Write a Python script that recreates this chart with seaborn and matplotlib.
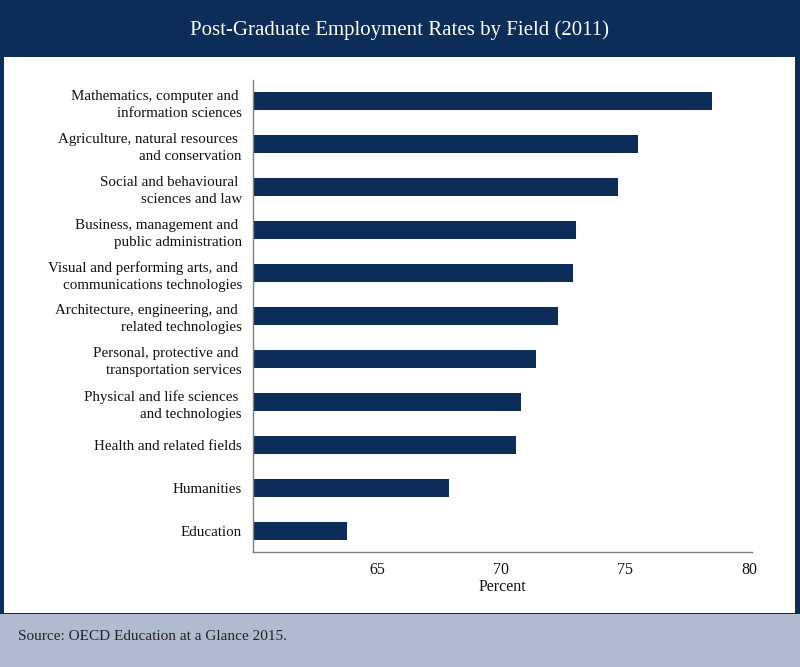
import numpy as np
import seaborn as sns
import pandas as pd
from matplotlib import pyplot as plt
from matplotlib.patches import Rectangle

# данные
fields = ['Mathematics, computer and \ninformation sciences',
          'Agriculture, natural resources \nand conservation',
          'Social and behavioural \nsciences and law',
          'Business, management and \npublic administration',
          'Visual and performing arts, and \ncommunications technologies',
          'Architecture, engineering, and \nrelated technologies',
          'Personal, protective and \ntransportation services',
          'Physical and life sciences \nand technologies',
          'Health and related fields',
          'Humanities',
          'Education']
rates = [78.5, 75.5, 74.7, 73.0, 72.9, 72.3, 71.4, 70.8, 70.6, 67.9, 63.8]
x_ticks = [65, 70, 75, 80]

navy = '#0b2d57'
footer_col = '#b0bbd0'
text_col = '#111111'

data = pd.DataFrame({'field': fields, 'rate': rates})

sns.set_style('white')
plt.rcParams['font.family'] = ['Liberation Serif', 'DejaVu Serif']

fig = plt.figure(figsize=(8, 6.67), dpi=100, facecolor=navy)

# белая панель и подвал
fig.patches.append(Rectangle((4 / 800, 54 / 667), 791 / 800, 556 / 667,
                             transform=fig.transFigure, facecolor='white',
                             edgecolor='none', zorder=-2))
fig.patches.append(Rectangle((0, 0), 1, 53 / 667, transform=fig.transFigure,
                             facecolor=footer_col, edgecolor='none', zorder=-2))

ax = fig.add_axes([253 / 800, 115 / 667, 499 / 800, 472 / 667])
ax.set_zorder(2)
ax.set_facecolor('none')
sns.barplot(data=data, x='rate', y='field', orient='h', color=navy,
            width=0.42, saturation=1, linewidth=0, ax=ax)

ax.set_xlim(60, 80.1)
ax.set_xticks(x_ticks)
ax.set_xticklabels([str(t) for t in x_ticks], fontsize=11.5, color=text_col)
ax.set_yticks(range(len(fields)))
ax.set_yticklabels(fields, fontsize=10.8, linespacing=1.4, color=text_col)
ax.tick_params(axis='both', length=0)
ax.tick_params(axis='x', pad=7)
ax.tick_params(axis='y', pad=8)
ax.set_xlabel('Percent', fontsize=11.5, labelpad=1, color=text_col)
ax.set_ylabel('')

for s in ['top', 'right']:
    ax.spines[s].set_visible(False)
for s in ['left', 'bottom']:
    ax.spines[s].set_color('#808080')
    ax.spines[s].set_linewidth(1)

fig.text(0.5, 1 - 30 / 667, 'Post-Graduate Employment Rates by Field (2011)',
         color='white', fontsize=15, ha='center', va='center')
fig.text(18 / 800, 30 / 667, 'Source: OECD Education at a Glance 2015.',
         color='#222222', fontsize=11, ha='left', va='center')

fig.savefig('out.png', dpi=100, facecolor=navy)
